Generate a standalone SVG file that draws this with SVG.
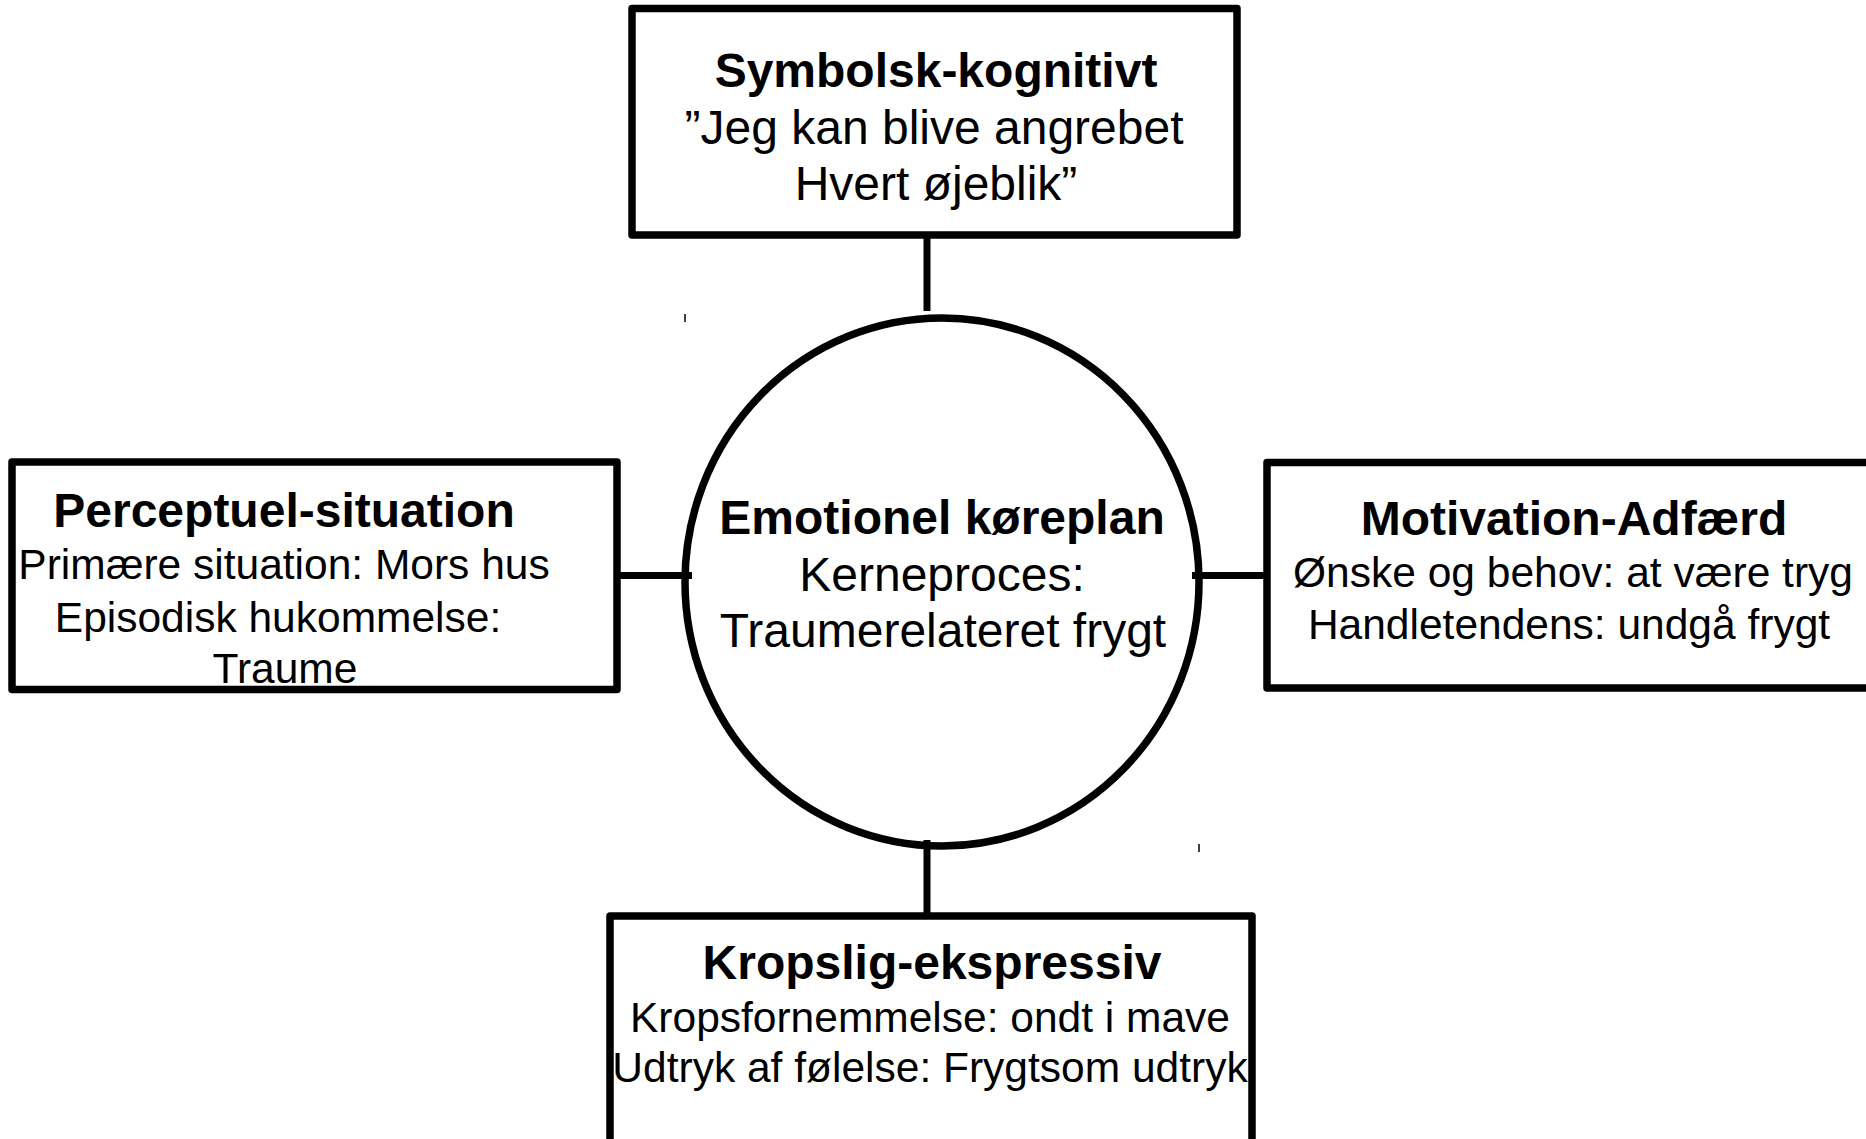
<svg xmlns="http://www.w3.org/2000/svg" width="1866" height="1139" viewBox="0 0 1866 1139">
<style>
.box{fill:#fff;stroke:#000;stroke-width:7.5;stroke-linejoin:round}
.con{stroke:#000;stroke-width:7;fill:none}
.tick{stroke:#000;stroke-width:1.5}
text{font-family:"Liberation Sans",Arial,sans-serif;fill:#000;text-anchor:middle}
.t{font-weight:bold;font-size:48px}
.b48{font-size:48px}
.b42{font-size:42.5px}
</style>
<rect width="1866" height="1139" fill="#fff"/>
<g id="connectors">
<line class="con" x1="927" y1="235" x2="927" y2="311"/>
<line class="con" x1="617" y1="575.5" x2="692" y2="575.5"/>
<line class="con" x1="1192" y1="575.5" x2="1267" y2="575.5"/>
<line class="con" x1="927" y1="840" x2="927" y2="916"/>
</g>
<g id="node-center">
<ellipse cx="942" cy="582" rx="257" ry="264" fill="none" stroke="#000" stroke-width="7.5"/>
<text class="t" x="942" y="534">Emotionel køreplan</text>
<text class="b48" x="942" y="591">Kerneproces:</text>
<text class="b48" x="943" y="647">Traumerelateret frygt</text>
</g>
<g id="node-top">
<rect class="box" x="632" y="8.5" width="605" height="226.5"/>
<text class="t" x="936" y="87">Symbolsk-kognitivt</text>
<text class="b48" x="934" y="144">”Jeg kan blive angrebet</text>
<text class="b48" x="936" y="200">Hvert øjeblik”</text>
</g>
<g id="node-left">
<rect class="box" x="12" y="462" width="605" height="227.5"/>
<text class="t" x="284" y="527">Perceptuel-situation</text>
<text class="b42" x="284" y="579">Primære situation: Mors hus</text>
<text class="b42" x="278" y="632">Episodisk hukommelse:</text>
<text class="b42" x="285" y="683">Traume</text>
</g>
<g id="node-right">
<rect class="box" x="1267" y="462.5" width="640" height="225.5"/>
<text class="t" x="1574" y="535">Motivation-Adfærd</text>
<text class="b42" x="1573" y="587">Ønske og behov: at være tryg</text>
<text class="b42" x="1569" y="639">Handletendens: undgå frygt</text>
</g>
<g id="node-bottom">
<rect class="box" x="610" y="916" width="642" height="300"/>
<text class="t" x="932" y="979">Kropslig-ekspressiv</text>
<text class="b42" x="930" y="1032">Kropsfornemmelse: ondt i mave</text>
<text class="b42" x="930" y="1082">Udtryk af følelse: Frygtsom udtryk</text>
</g>
<g id="marks">
<line class="tick" x1="685" y1="314" x2="685" y2="322"/>
<line class="tick" x1="1199" y1="844" x2="1199" y2="852"/>
</g>
</svg>
